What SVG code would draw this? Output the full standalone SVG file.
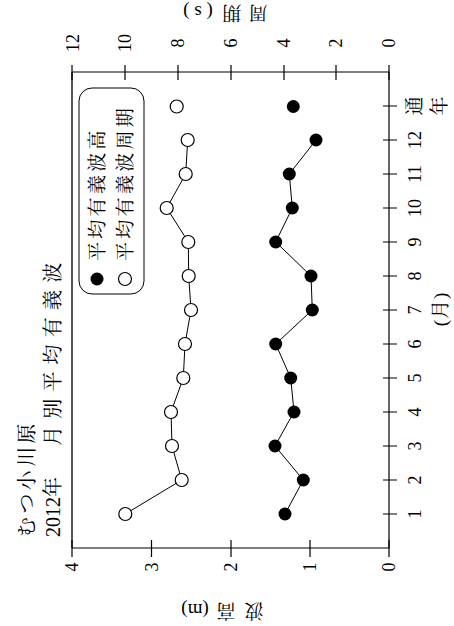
<svg xmlns="http://www.w3.org/2000/svg" width="454" height="626" viewBox="0 0 454 626">
<style>
text{font-family:"Liberation Serif","Noto Serif CJK JP","Noto Sans CJK JP",serif;fill:#000}
.num{font-size:18px;text-anchor:middle;dominant-baseline:central}
.jp{font-size:19px;dominant-baseline:central}
.c{text-anchor:middle}
.ax{stroke:#000;stroke-width:1.2;fill:none}
.ln{stroke:#000;stroke-width:1;fill:none}
.f{fill:#000}
.o{fill:#fff;stroke:#000;stroke-width:1.2}
</style>
<rect width="454" height="626" fill="#fff"/>
<g id="frame">
<line x1="72" y1="72" x2="72" y2="548" stroke="#555" stroke-width="2"/>
<path class="ax" d="M72,72H389V548H72"/>
<path class="ax" d="M72,65V80M125,65V80M178,65V80M231,65V80M284,65V80M336,65V80M389,65V80"/>
<path class="ax" d="M72,540V557M151.5,540V557M231,540V557M310,540V557M389,540V557"/>
<path class="ax" d="M383,514H397M383,480H397M383,446H397M383,412H397M383,378H397M383,344H397M383,310H397M383,276H397M383,242H397M383,208H397M383,174H397M383,140H397M383,106H397"/>
</g>
<g id="top-axis-labels">
<text class="num" transform="translate(73,43) rotate(-90)">12</text>
<text class="num" transform="translate(125,43) rotate(-90)">10</text>
<text class="num" transform="translate(178,43) rotate(-90)">8</text>
<text class="num" transform="translate(231,43) rotate(-90)">6</text>
<text class="num" transform="translate(284,43) rotate(-90)">4</text>
<text class="num" transform="translate(336,43) rotate(-90)">2</text>
<text class="num" transform="translate(389,43) rotate(-90)">0</text>
<text class="jp c" transform="translate(258,12) rotate(180)">周</text>
<text class="jp c" transform="translate(232,12) rotate(180)">期</text>
<text class="jp c" transform="translate(198,12) rotate(180)" xml:space="preserve">( s )</text>
</g>
<g id="bottom-axis-labels">
<text class="num" transform="translate(72,567) rotate(-90)">4</text>
<text class="num" transform="translate(151.5,567) rotate(-90)">3</text>
<text class="num" transform="translate(231,567) rotate(-90)">2</text>
<text class="num" transform="translate(310,567) rotate(-90)">1</text>
<text class="num" transform="translate(389,567) rotate(-90)">0</text>
<text class="jp c" transform="translate(254,610) rotate(180)">波</text>
<text class="jp c" transform="translate(226,610) rotate(180)">高</text>
<text class="jp c" transform="translate(195,610) rotate(180)">(m)</text>
</g>
<g id="month-labels">
<text class="num" transform="translate(415,514) rotate(-90)">1</text>
<text class="num" transform="translate(415,480) rotate(-90)">2</text>
<text class="num" transform="translate(415,446) rotate(-90)">3</text>
<text class="num" transform="translate(415,412) rotate(-90)">4</text>
<text class="num" transform="translate(415,378) rotate(-90)">5</text>
<text class="num" transform="translate(415,344) rotate(-90)">6</text>
<text class="num" transform="translate(415,310) rotate(-90)">7</text>
<text class="num" transform="translate(415,276) rotate(-90)">8</text>
<text class="num" transform="translate(415,242) rotate(-90)">9</text>
<text class="num" transform="translate(415,208) rotate(-90)">10</text>
<text class="num" transform="translate(415,174) rotate(-90)">11</text>
<text class="num" transform="translate(415,140) rotate(-90)">12</text>
<text class="jp c" transform="translate(414,106) rotate(-90)">通</text>
<text class="jp c" transform="translate(439,106) rotate(-90)">年</text>
<text class="jp c" transform="translate(440,309) rotate(-90)" style="letter-spacing:1px">(月)</text>
</g>
<g id="title">
<text class="jp" transform="translate(27,537) rotate(-90)" style="font-size:20px;letter-spacing:3.4px">むつ小川原</text>
<text class="jp" transform="translate(53,537) rotate(-90)" style="font-size:20px">2012年</text>
<text class="jp" transform="translate(53,446) rotate(-90)" style="font-size:20px;letter-spacing:7.2px">月別平均有義波</text>
</g>
<g id="legend">
<rect x="79" y="88" width="65" height="206" rx="13" class="ln"/>
<circle cx="97" cy="279" r="6.5" class="f"/>
<circle cx="125" cy="279" r="6.5" class="o"/>
<text class="jp" transform="translate(97,261) rotate(-90)" style="letter-spacing:3.3px">平均有義波高</text>
<text class="jp" transform="translate(125,261) rotate(-90)" style="letter-spacing:3.3px">平均有義波周期</text>
</g>
<g id="connectors">
<polyline class="ln" points="285,514 303.3,480 275,446 294,412 290.7,378 275.7,344 312.3,310 311,276 275.7,242 292.3,208 289.3,174 316,140"/>
<polyline class="ln" points="125.3,514 181.7,480 172,446 171,412 183.3,378 185,344 191,310 188.7,276 188.3,242 166.7,208 185.7,174 187.7,140"/>
</g>
<g id="height-points">
<circle class="f" cx="285" cy="514" r="6.5"/>
<circle class="f" cx="303.3" cy="480" r="6.5"/>
<circle class="f" cx="275" cy="446" r="6.5"/>
<circle class="f" cx="294" cy="412" r="6.5"/>
<circle class="f" cx="290.7" cy="378" r="6.5"/>
<circle class="f" cx="275.7" cy="344" r="6.5"/>
<circle class="f" cx="312.3" cy="310" r="6.5"/>
<circle class="f" cx="311" cy="276" r="6.5"/>
<circle class="f" cx="275.7" cy="242" r="6.5"/>
<circle class="f" cx="292.3" cy="208" r="6.5"/>
<circle class="f" cx="289.3" cy="174" r="6.5"/>
<circle class="f" cx="316" cy="140" r="6.5"/>
<circle class="f" cx="293.3" cy="106.5" r="6.5"/>
</g>
<g id="period-points">
<circle class="o" cx="125.3" cy="514" r="6.5"/>
<circle class="o" cx="181.7" cy="480" r="6.5"/>
<circle class="o" cx="172" cy="446" r="6.5"/>
<circle class="o" cx="171" cy="412" r="6.5"/>
<circle class="o" cx="183.3" cy="378" r="6.5"/>
<circle class="o" cx="185" cy="344" r="6.5"/>
<circle class="o" cx="191" cy="310" r="6.5"/>
<circle class="o" cx="188.7" cy="276" r="6.5"/>
<circle class="o" cx="188.3" cy="242" r="6.5"/>
<circle class="o" cx="166.7" cy="208" r="6.5"/>
<circle class="o" cx="185.7" cy="174" r="6.5"/>
<circle class="o" cx="187.7" cy="140" r="6.5"/>
<circle class="o" cx="176.7" cy="106.5" r="6.5"/>
</g>
</svg>
